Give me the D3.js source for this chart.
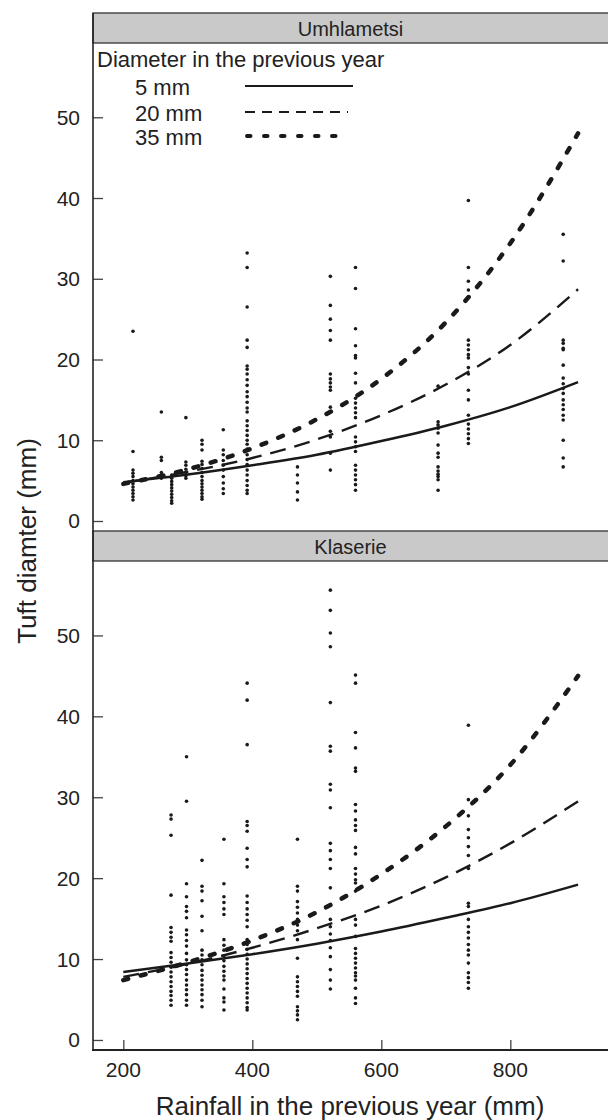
<!DOCTYPE html>
<html>
<head>
<meta charset="utf-8">
<script src="https://cdn.jsdelivr.net/npm/d3@7"></script>
<style>
  body { margin: 0; background: #fff; }
  text { font-family: "Liberation Sans", Arial, sans-serif; fill: #222; }
</style>
</head>
<body>
<div id="my_dataviz"></div>
<script>
// tick values
var rainTicks = [200, 400, 600, 800];
var diamTicks = [0, 10, 20, 30, 40, 50];
var sites = ["Umhlametsi", "Klaserie"];
var sizeLabels = ["5 mm", "20 mm", "35 mm"];

// fitted curves
var curveRain = [200, 300, 400, 500, 600, 700, 800, 905];
var umCurve5  = [4.8, 5.75, 6.9, 8.2, 9.9, 11.8, 14.1, 17.2];
var umCurve20 = [4.7, 6.1, 7.8, 10.1, 13.1, 16.9, 21.8, 28.7];
var umCurve35 = [4.6, 6.4, 9.0, 12.6, 17.6, 24.6, 34.4, 48.0];
var klCurve5  = [8.4, 9.45, 10.6, 11.9, 13.4, 15.1, 16.9, 19.2];
var klCurve20 = [7.8, 9.4, 11.4, 13.8, 16.6, 20.1, 24.3, 29.5];
var klCurve35 = [7.4, 9.6, 12.3, 15.8, 20.5, 26.4, 34.0, 45.0];

// observed tufts: one rainfall column, one list of diameters
var umRain = [215, 259, 275, 297, 322, 355, 392, 470, 521, 560, 688, 735, 882];
var umDiam = [
    [23.5, 8.6, 6.3, 5.9, 5.5, 5.0, 4.6, 4.2, 3.8, 3.4, 3.0, 2.6],
    [13.5, 7.9, 7.5, 6.0, 5.6, 5.3],
    [5.7, 5.3, 4.9, 4.5, 4.1, 3.7, 3.3, 2.9, 2.5, 2.2],
    [12.8, 7.3, 6.9, 6.4, 6.0, 5.6, 5.3],
    [10.0, 9.5, 8.8, 7.4, 7.0, 6.5, 6.0, 5.5, 5.0, 4.6, 4.2, 3.8, 3.4, 3.0, 2.7],
    [11.3, 8.8, 8.2, 7.5, 6.9, 6.3, 5.5, 4.7, 4.0, 3.4],
    [33.2, 31.4, 26.5, 22.4, 21.5, 19.2, 18.8, 18.2, 17.5, 16.8, 16.0, 15.4, 14.7, 14.0, 13.5, 12.4, 11.8, 11.2, 10.6, 10.0, 9.5, 8.9, 8.2, 7.6, 7.0, 6.3, 5.7, 5.0, 4.4, 3.8, 3.4],
    [6.7, 5.7, 4.7, 3.6, 2.6],
    [30.3, 26.7, 25.0, 23.6, 22.4, 18.2, 17.6, 17.1, 16.6, 16.2, 14.1, 11.1, 10.4, 8.4, 6.3],
    [31.4, 28.8, 23.8, 21.7, 20.5, 20.2, 18.3, 17.1, 15.2, 14.6, 14.0, 13.4, 12.8, 10.4, 9.8, 9.2, 8.6, 6.9, 6.3, 5.7, 5.1, 4.5, 3.8],
    [16.7, 12.3, 11.9, 11.5, 10.9, 9.4, 8.4, 7.9, 6.7, 6.2, 5.8, 5.5, 5.1, 3.8],
    [39.7, 31.4, 29.7, 28.6, 22.4, 21.8, 21.2, 20.6, 20.2, 19.0, 18.2, 16.2, 15.0, 13.1, 12.0, 11.4, 10.8, 10.2, 9.6],
    [35.5, 32.2, 22.4, 22.0, 21.4, 21.2, 19.3, 17.7, 17.0, 16.4, 15.8, 15.0, 14.4, 13.8, 13.1, 12.5, 10.0, 7.8, 6.7]
];
var klRain = [274, 298, 322, 356, 392, 470, 521, 560, 735];
var klDiam = [
    [27.8, 27.3, 25.3, 17.9, 13.9, 13.3, 12.7, 12.2, 10.8, 10.2, 9.6, 9.0, 8.4, 7.8, 7.2, 6.6, 6.0, 5.5, 4.9, 4.3],
    [35.0, 29.5, 19.3, 17.7, 16.5, 15.9, 15.1, 13.6, 13.0, 12.3, 11.6, 10.7, 9.9, 9.3, 8.7, 8.1, 7.4, 6.8, 6.2, 5.6, 4.9, 4.3],
    [22.2, 19.0, 18.4, 17.2, 15.3, 13.5, 11.1, 10.5, 9.9, 9.3, 8.6, 8.0, 7.4, 6.8, 6.2, 5.6, 4.9, 4.1],
    [24.8, 19.3, 17.7, 17.0, 16.2, 15.5, 12.4, 11.7, 11.1, 10.4, 9.8, 9.1, 8.5, 7.9, 7.4, 6.3, 5.2, 4.7, 3.7],
    [44.1, 42.0, 36.5, 27.0, 26.5, 25.8, 23.7, 22.3, 21.4, 17.8, 17.0, 16.2, 15.5, 14.8, 14.0, 12.4, 11.8, 11.2, 10.6, 10.0, 9.4, 8.8, 8.2, 7.6, 7.0, 6.4, 5.8, 5.2, 4.6, 4.0, 3.7],
    [24.8, 19.0, 18.4, 17.1, 16.4, 15.7, 14.9, 14.2, 13.5, 12.4, 10.1, 7.8, 7.2, 6.6, 6.0, 5.4, 4.1, 3.6, 3.1, 2.5],
    [55.6, 53.1, 50.3, 48.6, 41.7, 36.3, 35.7, 31.6, 30.9, 28.7, 24.3, 23.4, 22.3, 21.2, 18.8, 14.9, 14.0, 13.1, 12.3, 11.4, 10.3, 8.7, 7.4, 6.3],
    [45.1, 44.1, 38.0, 36.1, 33.6, 33.2, 29.1, 28.3, 27.2, 26.5, 25.9, 23.8, 23.0, 21.2, 20.5, 19.8, 19.4, 18.4, 14.9, 14.2, 12.8, 11.3, 10.7, 10.1, 9.5, 8.9, 8.3, 7.9, 7.4, 6.4, 5.2, 4.5],
    [38.9, 29.7, 27.7, 26.0, 25.0, 23.9, 22.8, 21.2, 16.9, 16.5, 14.9, 14.0, 13.3, 12.6, 11.8, 11.1, 10.5, 9.5, 8.3, 7.7, 7.1, 6.4]
];

var width = 608, height = 1120;
var left = 93, right = 609;
var headH = 30;
// panel boxes: header top and plot bottom
var panelBox = [
    { head: 13, top: 43, bottom: 531 },
    { head: 531, top: 561, bottom: 1050 }
];
var curveSets = [[umCurve5, umCurve20, umCurve35], [klCurve5, klCurve20, klCurve35]];
var pointSets = [[umRain, umDiam], [klRain, klDiam]];

// line looks: solid, dashed, dotted
var lineStyle = [
    { w: 2.5, dash: null, cap: "butt" },
    { w: 2.4, dash: "16,9", cap: "butt" },
    { w: 4.5, dash: "5,13", cap: "round" }
];
var legendStyle = [
    { w: 2, dash: null, cap: "butt" },
    { w: 2, dash: "10,7", cap: "butt" },
    { w: 4, dash: "3.5,13.5", cap: "round" }
];

var svg = d3.select("#my_dataviz")
    .append("svg")
    .attr("width", width)
    .attr("height", height);

var x = d3.scaleLinear()
    .domain([153, 953])
    .range([left, right]);

panelBox.forEach(function(p, i) {
    var y = d3.scaleLinear()
        .domain([-1.24, 59.2])
        .range([p.bottom, p.top]);

    var g = svg.append("g");

    // grey strip with site name
    g.append("rect")
        .attr("x", left)
        .attr("y", p.head)
        .attr("width", right - left)
        .attr("height", headH)
        .style("fill", "#c9c9c9")
        .style("stroke", "#333")
        .style("stroke-width", 1.3);
    g.append("text")
        .attr("x", (left + 608) / 2)
        .attr("y", p.head + 23)
        .attr("text-anchor", "middle")
        .style("font-size", "20px")
        .text(sites[i]);

    // y axis, ticks point inward
    var yAxis = g.append("g")
        .attr("transform", "translate(" + left + ",0)")
        .call(d3.axisRight(y).tickValues(diamTicks).tickSize(10).tickSizeOuter(0).tickFormat(""));
    yAxis.select(".domain").remove();
    yAxis.selectAll("line").style("stroke", "#444").style("stroke-width", 1.3);

    g.selectAll(".ylab")
        .data(diamTicks)
        .enter().append("text")
        .attr("x", 80)
        .attr("y", function(d) { return y(d) + 7.5; })
        .attr("text-anchor", "end")
        .style("font-size", "21px")
        .text(function(d) { return d; });

    // scatter points
    var pts = [];
    pointSets[i][0].forEach(function(r, k) {
        pointSets[i][1][k].forEach(function(v) { pts.push({ r: r, v: v }); });
    });
    g.append("g")
        .selectAll("circle")
        .data(pts)
        .enter().append("circle")
        .attr("cx", function(d) { return x(d.r); })
        .attr("cy", function(d) { return y(d.v); })
        .attr("r", 1.8)
        .style("fill", "#1a1a1a");

    // fitted lines
    var line = d3.line()
        .x(function(d) { return x(d[0]); })
        .y(function(d) { return y(d[1]); })
        .curve(d3.curveMonotoneX);
    curveSets[i].forEach(function(vals, k) {
        var s = lineStyle[k];
        g.append("path")
            .datum(curveRain.map(function(r, j) { return [r, vals[j]]; }))
            .attr("d", line)
            .style("fill", "none")
            .style("stroke", "#1a1a1a")
            .style("stroke-width", s.w)
            .style("stroke-linecap", s.cap)
            .style("stroke-dasharray", s.dash);
    });
});

// left frame line
svg.append("line")
    .attr("x1", left).attr("x2", left)
    .attr("y1", 13).attr("y2", 1050)
    .style("stroke", "#222")
    .style("stroke-width", 1.6);

// bottom x axis
var xAxis = svg.append("g")
    .attr("transform", "translate(0,1050)")
    .call(d3.axisTop(x).tickValues(rainTicks).tickSize(10).tickSizeOuter(0).tickFormat(""));
xAxis.select(".domain").remove();
xAxis.selectAll("line").style("stroke", "#444").style("stroke-width", 1.3);
svg.append("line")
    .attr("x1", left - 1).attr("x2", right)
    .attr("y1", 1050).attr("y2", 1050)
    .style("stroke", "#222")
    .style("stroke-width", 2.2);

svg.selectAll(".xlab")
    .data(rainTicks)
    .enter().append("text")
    .attr("x", function(d) { return x(d); })
    .attr("y", 1077)
    .attr("text-anchor", "middle")
    .style("font-size", "21px")
    .text(function(d) { return d; });

// axis titles
svg.append("text")
    .attr("x", 350)
    .attr("y", 1115)
    .attr("text-anchor", "middle")
    .style("font-size", "26px")
    .text("Rainfall in the previous year (mm)");
svg.append("text")
    .attr("transform", "translate(36,541) rotate(-90)")
    .attr("text-anchor", "middle")
    .style("font-size", "26px")
    .text("Tuft diamter (mm)");

// legend in the top panel
var legend = svg.append("g");
legend.append("text")
    .attr("x", 97)
    .attr("y", 67)
    .style("font-size", "22px")
    .text("Diameter in the previous year");
var legendY = [95, 121, 145];
sizeLabels.forEach(function(lab, k) {
    legend.append("text")
        .attr("x", 135)
        .attr("y", legendY[k])
        .style("font-size", "22px")
        .text(lab);
    var s = legendStyle[k];
    legend.append("line")
        .attr("x1", 245 + (k == 2 ? 2 : 0))
        .attr("x2", [353, 348, 342][k])
        .attr("y1", legendY[k] - 9)
        .attr("y2", legendY[k] - 9)
        .style("stroke", "#1a1a1a")
        .style("stroke-width", s.w)
        .style("stroke-linecap", s.cap)
        .style("stroke-dasharray", s.dash);
});
</script>
</body>
</html>
